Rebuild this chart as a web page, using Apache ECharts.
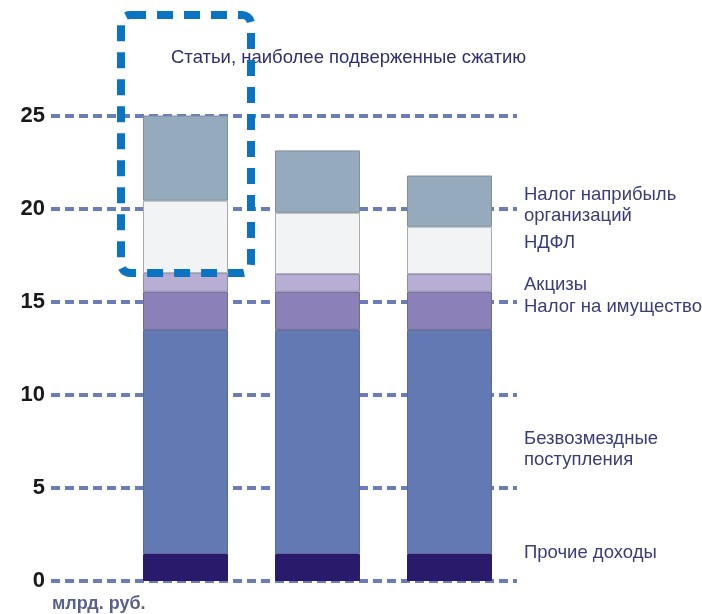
<!DOCTYPE html>
<html>
<head>
<meta charset="utf-8">
<script src="https://cdn.jsdelivr.net/npm/echarts@6/dist/echarts.min.js"></script>
<style>
	html, body { margin: 0; padding: 0; background: #fff; }
	#chart { width: 702px; height: 614px; }
</style>
</head>
<body>
<div id="chart"></div>
<script>
var years = ['1', '2', '3'];
var yTicks = [0, 5, 10, 15, 20, 25];

var names = ['Прочие доходы', 'Безвозмездные поступления', 'Налог на имущество', 'Акцизы', 'НДФЛ', 'Налог наприбыль организаций'];
var other = [1.45, 1.45, 1.45];
var grants = [12.05, 12.05, 12.05];
var property = [2.05, 2.05, 2.05];
var excise = [1.0, 0.95, 0.95];
var ndfl = [3.9, 3.3, 2.55];
var profit = [4.65, 3.35, 2.75];

var colors = ['#2a1a6c', '#6379b4', '#8b80b8', '#b8aed4', '#f2f3f5', '#95aabc'];
var borders = ['#2a1a6c', '#5a6a9a', '#6e6a90', '#8f8aa8', '#a8aab0', '#7f8e9a'];

var chart = echarts.init(document.getElementById('chart'));

var seriesData = [other, grants, property, excise, ndfl, profit];
var series = [];
for (var i = 0; i < seriesData.length; ++i) {
	series.push({
		name: names[i],
		type: 'bar',
		stack: 'total',
		xAxisIndex: 1,
		yAxisIndex: 1,
		barWidth: 85,
		itemStyle: {
			color: colors[i],
			borderColor: borders[i],
			borderWidth: 1
		},
		data: seriesData[i]
	});
}

var textFont = '18.5px "Liberation Sans", Arial, sans-serif';
function sideLabel(text, y) {
	return {
		type: 'text',
		x: 524,
		y: y,
		z: 10,
		style: {
			text: text,
			fill: '#3a3c78',
			font: textFont,
			lineHeight: 21,
			verticalAlign: 'middle'
		}
	};
}

var option = {
	animation: false,
	grid: [
		{ left: 51, right: 185, top: 116, bottom: 33 },
		{ left: 119.5, right: 186.5, top: 116, bottom: 33 }
	],
	xAxis: [
		{ type: 'category', gridIndex: 0, data: years, show: false },
		{ type: 'category', gridIndex: 1, data: years, show: false }
	],
	yAxis: [
		{
			type: 'value',
			gridIndex: 0,
			min: yTicks[0],
			max: yTicks[yTicks.length - 1],
			interval: 5,
			axisLine: { show: false },
			axisTick: { show: false },
			axisLabel: {
				margin: 6,
				color: '#1a1a1a',
				fontSize: 22,
				fontWeight: 'bold',
				fontFamily: '"Liberation Sans", Arial, sans-serif'
			},
			splitLine: {
				lineStyle: { color: '#6a7db8', width: 4, type: [9, 5] }
			}
		},
		{
			type: 'value',
			gridIndex: 1,
			min: yTicks[0],
			max: yTicks[yTicks.length - 1],
			show: false,
			splitLine: { show: false }
		}
	],
	series: series,
	graphic: [
		{
			type: 'rect',
			z: 20,
			shape: { x: 121, y: 15, width: 130, height: 258, r: 9 },
			style: { fill: 'none', stroke: '#0a74c2', lineWidth: 8, lineDash: [16, 11] }
		},
		{
			type: 'text',
			x: 171,
			y: 58,
			z: 10,
			style: {
				text: 'Статьи, наиболее подверженные сжатию',
				fill: '#2e2e72',
				font: textFont,
				verticalAlign: 'middle'
			}
		},
		sideLabel('Налог наприбыль\nорганизаций', 205),
		sideLabel('НДФЛ', 243),
		sideLabel('Акцизы', 285),
		sideLabel('Налог на имущество', 307),
		sideLabel('Безвозмездные\nпоступления', 449),
		sideLabel('Прочие доходы', 553),
		{
			type: 'text',
			x: 52,
			y: 604,
			z: 10,
			style: {
				text: 'млрд. руб.',
				fill: '#5a6189',
				font: 'bold 18px "Liberation Sans", Arial, sans-serif',
				verticalAlign: 'middle'
			}
		}
	]
};
chart.setOption(option);
</script>
</body>
</html>
